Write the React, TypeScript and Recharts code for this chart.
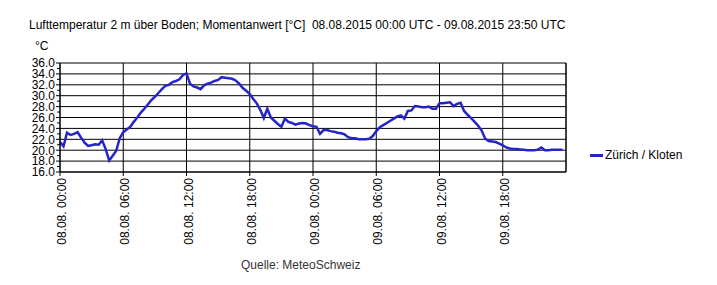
import { LineChart, Line, XAxis, YAxis, ReferenceLine, CartesianGrid, Legend } from "recharts";

// 20-minute readings, 08.08.2015 00:00 UTC onwards (hours since start)
const STEP_HOURS = 1 / 3;

const temperature = [
  21.5, 20.7, 23.2, 22.8, 23.0, 23.3, 22.3, 21.4, 20.8, 20.9, 21.1, 21.0,
  21.8, 20.2, 18.1, 19.0, 19.9, 22.2, 23.3, 23.8, 24.3, 25.2, 26.0, 26.9,
  27.6, 28.4, 29.2, 29.8, 30.5, 31.2, 31.8, 32.0, 32.5, 32.7, 33.0, 33.8,
  34.1, 32.2, 31.7, 31.5, 31.2, 31.9, 32.2, 32.4, 32.7, 32.9, 33.4, 33.3,
  33.2, 33.1, 32.8, 32.2, 31.4, 30.9, 30.3, 29.4, 28.6, 27.4, 25.9, 27.6,
  26.0, 25.4, 24.8, 24.3, 25.8, 25.2, 25.0, 24.7, 24.9, 25.0, 24.9, 24.6,
  24.4, 24.3, 23.0, 23.7, 23.7, 23.5, 23.4, 23.2, 23.1, 22.9, 22.4, 22.2,
  22.2, 22.0, 22.0, 22.0, 22.1, 22.6, 23.5, 24.2, 24.6, 25.0, 25.4, 25.8,
  26.2, 26.4, 25.8, 27.2, 27.3, 28.1, 28.0, 27.9, 27.9, 28.0, 27.6, 27.6,
  28.6, 28.6, 28.7, 28.8, 28.1, 28.5, 28.7, 27.2, 26.5, 25.9, 25.2, 24.5,
  23.6, 22.1, 21.7, 21.6, 21.5, 21.2, 20.9, 20.5, 20.3, 20.2, 20.2, 20.15,
  20.1, 20.0, 20.0, 20.0, 20.1, 20.5, 20.0, 20.0, 20.1, 20.1, 20.1, 20.1,
];

const xTicks = [0, 6, 12, 18, 24, 30, 36, 42];
const xTickLabels = [
  "08.08. 00:00", "08.08. 06:00", "08.08. 12:00", "08.08. 18:00",
  "09.08. 00:00", "09.08. 06:00", "09.08. 12:00", "09.08. 18:00",
];
const yMajor = [16, 18, 20, 22, 24, 26, 28, 30, 32, 34, 36];
const yAll = [16, 17, 18, 19, 20, 21, 22, 23, 24, 25, 26, 27, 28, 29, 30, 31, 32, 33, 34, 35, 36];

const FONT = '"Liberation Sans", Arial, sans-serif';

const data = temperature.map((t, i) => ({ h: i * STEP_HOURS, temp: t }));

function XTick(props: any) {
  const { x, y, payload } = props;
  const idx = xTicks.indexOf(payload.value);
  return (
    <text
      transform={`translate(${x},${y}) rotate(-90)`}
      textAnchor="end"
      dy={6}
      fontSize={12}
      fontFamily={FONT}
      fill="#000"
    >
      {xTickLabels[idx]}
    </text>
  );
}

function YTick(props: any) {
  const { x, y, payload } = props;
  const major = yMajor.includes(payload.value);
  return (
    <g>
      <line x1={x - (major ? 4 : 3)} x2={x} y1={y} y2={y} stroke="#000" />
      {major && (
        <text x={x - 5} y={y} dy={4.3} textAnchor="end" fontSize={12} fontFamily={FONT} fill="#000">
          {payload.value.toFixed(1)}
        </text>
      )}
    </g>
  );
}

function LegendContent() {
  return (
    <div style={{ display: "flex", alignItems: "center", fontFamily: FONT, fontSize: 12, color: "#000" }}>
      <span style={{ display: "inline-block", width: 13, height: 3, background: "#2424c8", marginRight: 2 }} />
      <span>Zürich / Kloten</span>
    </div>
  );
}

export default function App() {
  return (
    <div style={{ position: "absolute", left: 0, top: 0, width: 717, height: 285, background: "#fff", fontFamily: FONT }}>
      <div style={{ position: "absolute", left: 29, top: 18.8, fontSize: 12, lineHeight: "12px", whiteSpace: "pre", color: "#000" }}>
        {"Lufttemperatur 2 m über Boden; Momentanwert [°C]  08.08.2015 00:00 UTC - 09.08.2015 23:50 UTC"}
      </div>
      <div style={{ position: "absolute", left: 35, top: 39.8, fontSize: 12, lineHeight: "12px", color: "#000" }}>°C</div>
      <div style={{ position: "absolute", left: 241, top: 258.8, fontSize: 12, lineHeight: "12px", color: "#333" }}>
        Quelle: MeteoSchweiz
      </div>
      <LineChart width={717} height={285} data={data} margin={{ top: 63, right: 151, left: 0, bottom: 13 }}>
        <CartesianGrid horizontal={false} vertical={true} stroke="#000" />
        <XAxis
          dataKey="h"
          type="number"
          domain={[0, 48]}
          ticks={xTicks}
          interval={0}
          height={100}
          tickSize={4}
          tickMargin={2}
          stroke="#000"
          tick={<XTick />}
        />
        <YAxis
          type="number"
          domain={[16, 36]}
          ticks={yAll}
          interval={0}
          width={60}
          tickSize={0}
          tickMargin={0}
          tickLine={false}
          stroke="#000"
          tick={<YTick />}
        />
        {yMajor.map((v) => (
          <ReferenceLine key={v} y={v} stroke="#000" />
        ))}
        <ReferenceLine x={48} stroke="#000" />
        <Line
          type="linear"
          dataKey="temp"
          stroke="#2424c8"
          strokeWidth={2.5}
          dot={false}
          isAnimationActive={false}
        />
        <Legend
          align="center"
          verticalAlign="middle"
          layout="horizontal"
          content={<LegendContent />}
          wrapperStyle={{ left: 590, top: 148, width: 120, height: 14 }}
        />
      </LineChart>
    </div>
  );
}
